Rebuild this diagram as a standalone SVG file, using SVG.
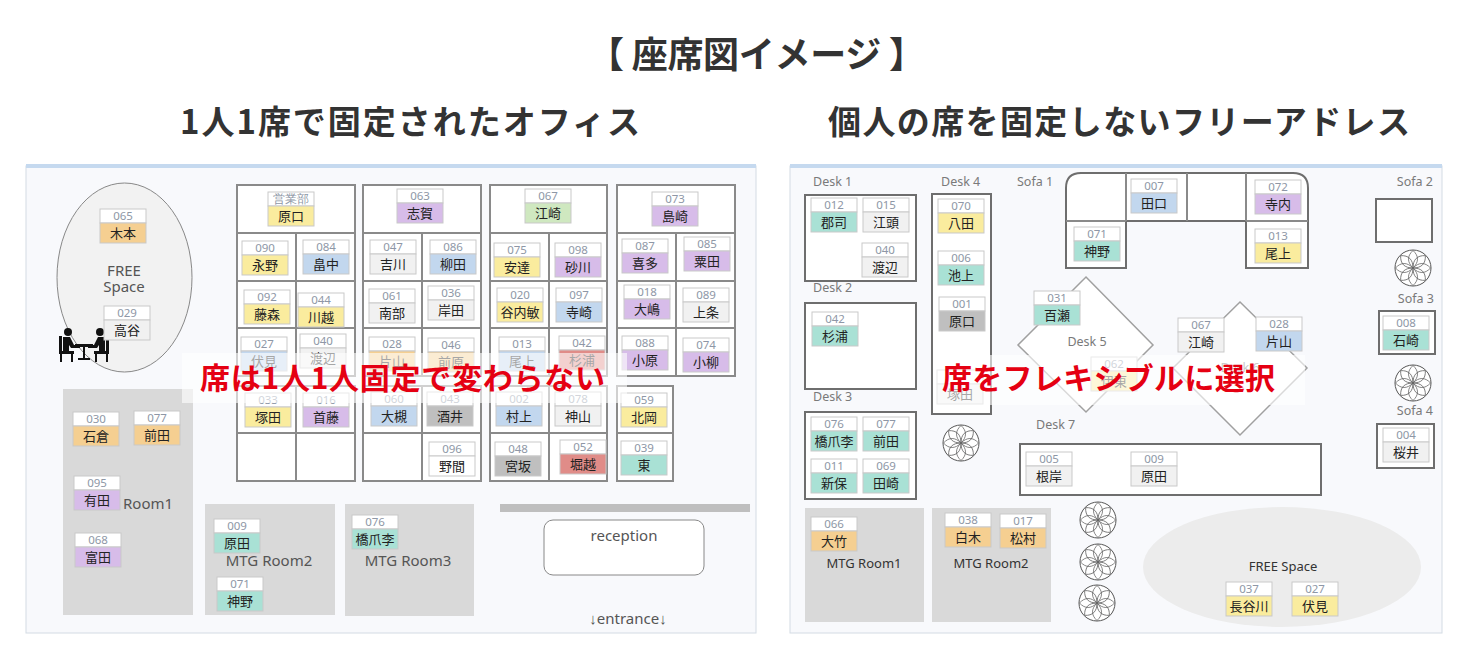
<svg xmlns="http://www.w3.org/2000/svg" width="1468" height="670" viewBox="0 0 1468 670">
<style>
.title{font-family:"Noto Sans CJK JP",sans-serif;font-weight:700;fill:#333}
.panel{fill:#f8f9fc;stroke:#d4dbe4;stroke-width:1}
.topbar{fill:#c5d9ef}
.grid{fill:#fff;stroke:#8a8a8a;stroke-width:2}
.gl{stroke:#8a8a8a;stroke-width:2;fill:none}
.desk{fill:#fff;stroke:#6e6e6e;stroke-width:2}
.dia{fill:#fff;stroke:#a0a0a0;stroke-width:1.5}
.room{fill:#d9d9d9}
.ct{fill:#fff;stroke:#c9c9c9;stroke-width:1}
.cb{stroke:#c9c9c9;stroke-width:1}
.y{fill:#faec9e}.b{fill:#c2d7ee}.p{fill:#d7bce9}.o{fill:#f5cf91}.g{fill:#f1f1f1}.gr{fill:#cfe8c0}.t{fill:#a9e1d5}.d{fill:#bfbfbf}.r{fill:#e08c88}.w{fill:#fff}
.num{font-family:"Noto Sans",sans-serif;font-size:11.5px;fill:#8e97a6;text-anchor:middle}
.nm{font-family:"Noto Sans CJK JP",sans-serif;font-size:13px;fill:#222;text-anchor:middle}
.lbl{font-family:"Noto Sans",sans-serif;font-size:15px;fill:#555}
.dl{font-family:"Noto Sans",sans-serif;font-size:12.5px;fill:#7a7a7a}
.rl{font-family:"Noto Sans",sans-serif;font-size:13px;fill:#333}
.band{fill:#fff;fill-opacity:0.6}
.red{font-family:"Noto Sans CJK JP",sans-serif;font-weight:700;font-size:30px;fill:#e50012}
</style>
<defs>
<g id="plant">
<circle r="18" fill="#fff" stroke="#555" stroke-width="1"/>
<g fill="none" stroke="#666" stroke-width="0.8">
<path id="pt" d="M0,0 C6,-6 6,-12 0,-17.5 C-6,-12 -6,-6 0,0Z"/>
<use href="#pt" transform="rotate(45)"/><use href="#pt" transform="rotate(90)"/><use href="#pt" transform="rotate(135)"/>
<use href="#pt" transform="rotate(180)"/><use href="#pt" transform="rotate(225)"/><use href="#pt" transform="rotate(270)"/><use href="#pt" transform="rotate(315)"/>
</g>
</g>
</defs>
<rect width="1468" height="670" fill="#fff"/>
<text class="title" x="588" y="68" font-size="36" textLength="337">【 座席図イメージ 】</text>
<text class="title" x="180" y="134" font-size="33" textLength="460">1人1席で固定されたオフィス</text>
<text class="title" x="828" y="134" font-size="33" textLength="582">個人の席を固定しないフリーアドレス</text>

<!-- LEFT PANEL -->
<g id="left-panel">
<rect class="panel" x="26" y="166" width="730" height="467"/>
<rect class="topbar" x="26" y="164" width="730" height="4"/>
<ellipse cx="124.5" cy="277.5" rx="67.5" ry="94.5" fill="#f2f2f2" stroke="#888" stroke-width="1"/>
<text class="lbl" x="124" y="276" text-anchor="middle">FREE</text>
<text class="lbl" x="124" y="292" text-anchor="middle">Space</text>
<g id="meeting-icon" fill="#111">
<circle cx="68" cy="332" r="4"/>
<path d="M63,337 h7 l4,8 h6 v3 h-9 l-2,-3 v7 h-6 z"/>
<rect x="59" y="336" width="3" height="18"/>
<rect x="59" y="351" width="15" height="3"/>
<rect x="60" y="354" width="2" height="8"/><rect x="71" y="354" width="2" height="8"/>
<rect x="75" y="344" width="18" height="3"/>
<rect x="83" y="347" width="2" height="12"/>
<rect x="78" y="358" width="12" height="2"/>
<circle cx="100" cy="332" r="4"/>
<path d="M105,337 h-7 l-4,8 h-6 v3 h9 l2,-3 v7 h6 z"/>
<rect x="106" y="336" width="3" height="18"/>
<rect x="94" y="351" width="15" height="3"/>
<rect x="106" y="354" width="2" height="8"/><rect x="95" y="354" width="2" height="8"/>
</g>
<rect class="room" x="63" y="389" width="130" height="226"/>
<text class="lbl" x="123" y="509">Room1</text>
<rect class="room" x="205" y="504" width="130" height="111"/>
<text class="lbl" x="269" y="566" text-anchor="middle">MTG Room2</text>
<rect class="room" x="345" y="504" width="129" height="112"/>
<text class="lbl" x="408" y="566" text-anchor="middle">MTG Room3</text>
<rect x="500" y="504" width="250" height="8" fill="#bfbfbf"/>
<rect x="544" y="520" width="160" height="55" rx="9" fill="#fff" stroke="#888" stroke-width="1"/>
<text class="lbl" x="624" y="541" text-anchor="middle">reception</text>
<text class="lbl" x="628" y="624" text-anchor="middle" font-size="13">↓entrance↓</text>
<!-- desk grid -->
<rect class="grid" x="237" y="185" width="118" height="191"/>
<path class="gl" d="M237,233H355M237,281H355M237,328H355M296,233V376"/>
<rect class="grid" x="237" y="386" width="118" height="95"/>
<path class="gl" d="M237,433H355M296,386V481"/>
<rect class="grid" x="363" y="185" width="118" height="191"/>
<path class="gl" d="M363,233H481M363,281H481M363,328H481M422,233V376"/>
<rect class="grid" x="363" y="386" width="118" height="95"/>
<path class="gl" d="M363,433H481M422,386V481"/>
<rect class="grid" x="490" y="185" width="117" height="191"/>
<path class="gl" d="M490,233H607M490,281H607M490,328H607M549,233V376"/>
<rect class="grid" x="490" y="386" width="117" height="95"/>
<path class="gl" d="M490,433H607M549,386V481"/>
<rect class="grid" x="617" y="185" width="118" height="191"/>
<path class="gl" d="M617,233H735M617,281H735M617,328H735M676,233V376"/>
<rect class="grid" x="617" y="386" width="56" height="95"/>
<path class="gl" d="M617,433H673"/>
</g>

<g id="left-seats">
<g id="L065" transform="translate(100,209)"><rect class="ct" width="46" height="14"/><rect class="cb o" y="14" width="46" height="20"/><text class="num" x="23" y="11">065</text><text class="nm" x="23" y="29">木本</text></g>
<g id="L029" transform="translate(104,306)"><rect class="ct" width="46" height="14"/><rect class="cb g" y="14" width="46" height="20"/><text class="num" x="23" y="11">029</text><text class="nm" x="23" y="29">高谷</text></g>
<g id="L000" transform="translate(268,192)"><rect class="ct" width="46" height="14"/><rect class="cb y" y="14" width="46" height="20"/><text class="num" x="23" y="11" font-size="10.5">営業部</text><text class="nm" x="23" y="29">原口</text></g>
<g id="L090" transform="translate(242,241)"><rect class="ct" width="46" height="14"/><rect class="cb y" y="14" width="46" height="20"/><text class="num" x="23" y="11">090</text><text class="nm" x="23" y="29">永野</text></g>
<g id="L084" transform="translate(303,240)"><rect class="ct" width="46" height="14"/><rect class="cb b" y="14" width="46" height="20"/><text class="num" x="23" y="11">084</text><text class="nm" x="23" y="29">畠中</text></g>
<g id="L092" transform="translate(244,290)"><rect class="ct" width="46" height="14"/><rect class="cb y" y="14" width="46" height="20"/><text class="num" x="23" y="11">092</text><text class="nm" x="23" y="29">藤森</text></g>
<g id="L044" transform="translate(298,293)"><rect class="ct" width="46" height="14"/><rect class="cb y" y="14" width="46" height="20"/><text class="num" x="23" y="11">044</text><text class="nm" x="23" y="29">川越</text></g>
<g id="L027" transform="translate(241,337)"><rect class="ct" width="46" height="14"/><rect class="cb b" y="14" width="46" height="20"/><text class="num" x="23" y="11">027</text><text class="nm" x="23" y="29">伏見</text></g>
<g id="L040" transform="translate(300,334)"><rect class="ct" width="46" height="14"/><rect class="cb g" y="14" width="46" height="20"/><text class="num" x="23" y="11">040</text><text class="nm" x="23" y="29">渡辺</text></g>
<g id="L063" transform="translate(397,189)"><rect class="ct" width="46" height="14"/><rect class="cb p" y="14" width="46" height="20"/><text class="num" x="23" y="11">063</text><text class="nm" x="23" y="29">志賀</text></g>
<g id="L067" transform="translate(525,189)"><rect class="ct" width="46" height="14"/><rect class="cb gr" y="14" width="46" height="20"/><text class="num" x="23" y="11">067</text><text class="nm" x="23" y="29">江崎</text></g>
<g id="L073" transform="translate(652,192)"><rect class="ct" width="46" height="14"/><rect class="cb p" y="14" width="46" height="20"/><text class="num" x="23" y="11">073</text><text class="nm" x="23" y="29">島崎</text></g>
<g id="L047" transform="translate(370,240)"><rect class="ct" width="46" height="14"/><rect class="cb g" y="14" width="46" height="20"/><text class="num" x="23" y="11">047</text><text class="nm" x="23" y="29">吉川</text></g>
<g id="L086" transform="translate(430,240)"><rect class="ct" width="46" height="14"/><rect class="cb b" y="14" width="46" height="20"/><text class="num" x="23" y="11">086</text><text class="nm" x="23" y="29">柳田</text></g>
<g id="L075" transform="translate(494,243)"><rect class="ct" width="46" height="14"/><rect class="cb y" y="14" width="46" height="20"/><text class="num" x="23" y="11">075</text><text class="nm" x="23" y="29">安達</text></g>
<g id="L098" transform="translate(555,243)"><rect class="ct" width="46" height="14"/><rect class="cb p" y="14" width="46" height="20"/><text class="num" x="23" y="11">098</text><text class="nm" x="23" y="29">砂川</text></g>
<g id="L087" transform="translate(622,239)"><rect class="ct" width="46" height="14"/><rect class="cb p" y="14" width="46" height="20"/><text class="num" x="23" y="11">087</text><text class="nm" x="23" y="29">喜多</text></g>
<g id="L085" transform="translate(684,237)"><rect class="ct" width="46" height="14"/><rect class="cb p" y="14" width="46" height="20"/><text class="num" x="23" y="11">085</text><text class="nm" x="23" y="29">粟田</text></g>
<g id="L061" transform="translate(369,289)"><rect class="ct" width="46" height="14"/><rect class="cb g" y="14" width="46" height="20"/><text class="num" x="23" y="11">061</text><text class="nm" x="23" y="29">南部</text></g>
<g id="L036" transform="translate(428,286)"><rect class="ct" width="46" height="14"/><rect class="cb g" y="14" width="46" height="20"/><text class="num" x="23" y="11">036</text><text class="nm" x="23" y="29">岸田</text></g>
<g id="L020" transform="translate(497,288)"><rect class="ct" width="46" height="14"/><rect class="cb y" y="14" width="46" height="20"/><text class="num" x="23" y="11">020</text><text class="nm" x="23" y="29">谷内敏</text></g>
<g id="L097" transform="translate(556,288)"><rect class="ct" width="46" height="14"/><rect class="cb b" y="14" width="46" height="20"/><text class="num" x="23" y="11">097</text><text class="nm" x="23" y="29">寺崎</text></g>
<g id="L018" transform="translate(624,285)"><rect class="ct" width="46" height="14"/><rect class="cb p" y="14" width="46" height="20"/><text class="num" x="23" y="11">018</text><text class="nm" x="23" y="29">大嶋</text></g>
<g id="L089" transform="translate(683,288)"><rect class="ct" width="46" height="14"/><rect class="cb g" y="14" width="46" height="20"/><text class="num" x="23" y="11">089</text><text class="nm" x="23" y="29">上条</text></g>
<g id="L028" transform="translate(369,337)"><rect class="ct" width="46" height="14"/><rect class="cb o" y="14" width="46" height="20"/><text class="num" x="23" y="11">028</text><text class="nm" x="23" y="29">片山</text></g>
<g id="L046" transform="translate(428,338)"><rect class="ct" width="46" height="14"/><rect class="cb o" y="14" width="46" height="20"/><text class="num" x="23" y="11">046</text><text class="nm" x="23" y="29">前原</text></g>
<g id="L013" transform="translate(499,337)"><rect class="ct" width="46" height="14"/><rect class="cb b" y="14" width="46" height="20"/><text class="num" x="23" y="11">013</text><text class="nm" x="23" y="29">尾上</text></g>
<g id="L042" transform="translate(559,336)"><rect class="ct" width="46" height="14"/><rect class="cb r" y="14" width="46" height="20"/><text class="num" x="23" y="11">042</text><text class="nm" x="23" y="29">杉浦</text></g>
<g id="L088" transform="translate(622,336)"><rect class="ct" width="46" height="14"/><rect class="cb p" y="14" width="46" height="20"/><text class="num" x="23" y="11">088</text><text class="nm" x="23" y="29">小原</text></g>
<g id="L074" transform="translate(683,338)"><rect class="ct" width="46" height="14"/><rect class="cb p" y="14" width="46" height="20"/><text class="num" x="23" y="11">074</text><text class="nm" x="23" y="29">小柳</text></g>
<g id="L033" transform="translate(245,393)"><rect class="ct" width="46" height="14"/><rect class="cb y" y="14" width="46" height="20"/><text class="num" x="23" y="11">033</text><text class="nm" x="23" y="29">塚田</text></g>
<g id="L016" transform="translate(303,393)"><rect class="ct" width="46" height="14"/><rect class="cb p" y="14" width="46" height="20"/><text class="num" x="23" y="11">016</text><text class="nm" x="23" y="29">首藤</text></g>
<g id="L060" transform="translate(371,392)"><rect class="ct" width="46" height="14"/><rect class="cb b" y="14" width="46" height="20"/><text class="num" x="23" y="11">060</text><text class="nm" x="23" y="29">大槻</text></g>
<g id="L043" transform="translate(427,392)"><rect class="ct" width="46" height="14"/><rect class="cb d" y="14" width="46" height="20"/><text class="num" x="23" y="11">043</text><text class="nm" x="23" y="29">酒井</text></g>
<g id="L002" transform="translate(496,392)"><rect class="ct" width="46" height="14"/><rect class="cb b" y="14" width="46" height="20"/><text class="num" x="23" y="11">002</text><text class="nm" x="23" y="29">村上</text></g>
<g id="L078" transform="translate(555,392)"><rect class="ct" width="46" height="14"/><rect class="cb g" y="14" width="46" height="20"/><text class="num" x="23" y="11">078</text><text class="nm" x="23" y="29">神山</text></g>
<g id="L059" transform="translate(621,393)"><rect class="ct" width="46" height="14"/><rect class="cb y" y="14" width="46" height="20"/><text class="num" x="23" y="11">059</text><text class="nm" x="23" y="29">北岡</text></g>
<g id="L096" transform="translate(429,442)"><rect class="ct" width="46" height="14"/><rect class="cb w" y="14" width="46" height="20"/><text class="num" x="23" y="11">096</text><text class="nm" x="23" y="29">野間</text></g>
<g id="L048" transform="translate(495,442)"><rect class="ct" width="46" height="14"/><rect class="cb d" y="14" width="46" height="20"/><text class="num" x="23" y="11">048</text><text class="nm" x="23" y="29">宮坂</text></g>
<g id="L052" transform="translate(560,440)"><rect class="ct" width="46" height="14"/><rect class="cb r" y="14" width="46" height="20"/><text class="num" x="23" y="11">052</text><text class="nm" x="23" y="29">堀越</text></g>
<g id="L039" transform="translate(621,441)"><rect class="ct" width="46" height="14"/><rect class="cb t" y="14" width="46" height="20"/><text class="num" x="23" y="11">039</text><text class="nm" x="23" y="29">東</text></g>
<g id="L030" transform="translate(73,412)"><rect class="ct" width="46" height="14"/><rect class="cb o" y="14" width="46" height="20"/><text class="num" x="23" y="11">030</text><text class="nm" x="23" y="29">石倉</text></g>
<g id="L077" transform="translate(134,411)"><rect class="ct" width="46" height="14"/><rect class="cb o" y="14" width="46" height="20"/><text class="num" x="23" y="11">077</text><text class="nm" x="23" y="29">前田</text></g>
<g id="L095" transform="translate(74,476)"><rect class="ct" width="46" height="14"/><rect class="cb p" y="14" width="46" height="20"/><text class="num" x="23" y="11">095</text><text class="nm" x="23" y="29">有田</text></g>
<g id="L068" transform="translate(75,533)"><rect class="ct" width="46" height="14"/><rect class="cb p" y="14" width="46" height="20"/><text class="num" x="23" y="11">068</text><text class="nm" x="23" y="29">富田</text></g>
<g id="L009" transform="translate(214,519)"><rect class="ct" width="46" height="14"/><rect class="cb t" y="14" width="46" height="20"/><text class="num" x="23" y="11">009</text><text class="nm" x="23" y="29">原田</text></g>
<g id="L071" transform="translate(217,577)"><rect class="ct" width="46" height="14"/><rect class="cb t" y="14" width="46" height="20"/><text class="num" x="23" y="11">071</text><text class="nm" x="23" y="29">神野</text></g>
<g id="L076" transform="translate(352,515)"><rect class="ct" width="46" height="14"/><rect class="cb t" y="14" width="46" height="20"/><text class="num" x="23" y="11">076</text><text class="nm" x="23" y="29">橋爪李</text></g>
</g>

<!-- RIGHT PANEL -->
<g id="right-panel">
<rect class="panel" x="790" y="166" width="652" height="467"/>
<rect class="topbar" x="790" y="164" width="652" height="4"/>
<text class="dl" x="813" y="186">Desk 1</text>
<rect class="desk" x="805" y="195" width="111" height="86"/>
<text class="dl" x="941" y="186">Desk 4</text>
<rect class="desk" x="932" y="194" width="59" height="220"/>
<text class="dl" x="813" y="292">Desk 2</text>
<rect class="desk" x="805" y="303" width="111" height="86"/>
<text class="dl" x="813" y="401">Desk 3</text>
<rect class="desk" x="805" y="412" width="111" height="87"/>
<text class="dl" x="1017" y="186">Sofa 1</text>
<path class="desk" d="M1066,268V188Q1066,173 1081,173H1293Q1308,173 1308,188V268H1246V221H1126V268Z"/>
<path class="gl" d="M1066,221H1126M1246,221H1308M1126,173V221M1187,173V221M1246,173V221" stroke="#6e6e6e"/>
<text class="dl" x="1433" y="186" text-anchor="end">Sofa 2</text>
<rect class="desk" x="1376" y="199" width="56" height="43"/>
<text class="dl" x="1434" y="303" text-anchor="end">Sofa 3</text>
<rect class="desk" x="1379" y="311" width="56" height="43"/>
<text class="dl" x="1433" y="415" text-anchor="end">Sofa 4</text>
<rect class="desk" x="1377" y="424" width="57" height="44"/>
<path class="dia" d="M1086,277L1153,345L1086,412L1018,345Z"/>
<text class="dl" x="1087" y="346" text-anchor="middle">Desk 5</text>
<path class="dia" d="M1240,302L1307,368L1240,435L1173,368Z"/>
<text class="dl" x="1240" y="372" text-anchor="middle">Desk 6</text>
<text class="dl" x="1036" y="429">Desk 7</text>
<rect class="desk" x="1020" y="444" width="301" height="51"/>
<rect class="room" x="805" y="508" width="119" height="114"/>
<text class="rl" x="864" y="568" text-anchor="middle">MTG Room1</text>
<rect class="room" x="932" y="508" width="119" height="114"/>
<text class="rl" x="991" y="568" text-anchor="middle">MTG Room2</text>
<ellipse cx="1282" cy="567" rx="139" ry="60" fill="#ececec"/>
<text class="rl" x="1283" y="571" text-anchor="middle">FREE Space</text>
<g id="plants">
<use href="#plant" transform="translate(1413,268)"/>
<use href="#plant" transform="translate(1413,383)"/>
<use href="#plant" transform="translate(961,443)"/>
<use href="#plant" transform="translate(1098,520)"/>
<use href="#plant" transform="translate(1098,562)"/>
<use href="#plant" transform="translate(1097,603)"/>
</g>
</g>

<g id="right-seats">
<g id="R012" transform="translate(811,198)"><rect class="ct" width="46" height="14"/><rect class="cb t" y="14" width="46" height="20"/><text class="num" x="23" y="11">012</text><text class="nm" x="23" y="29">郡司</text></g>
<g id="R015" transform="translate(863,198)"><rect class="ct" width="46" height="14"/><rect class="cb g" y="14" width="46" height="20"/><text class="num" x="23" y="11">015</text><text class="nm" x="23" y="29">江頭</text></g>
<g id="R040" transform="translate(862,243)"><rect class="ct" width="46" height="14"/><rect class="cb g" y="14" width="46" height="20"/><text class="num" x="23" y="11">040</text><text class="nm" x="23" y="29">渡辺</text></g>
<g id="R070" transform="translate(938,199)"><rect class="ct" width="46" height="14"/><rect class="cb y" y="14" width="46" height="20"/><text class="num" x="23" y="11">070</text><text class="nm" x="23" y="29">八田</text></g>
<g id="R006" transform="translate(938,251)"><rect class="ct" width="46" height="14"/><rect class="cb t" y="14" width="46" height="20"/><text class="num" x="23" y="11">006</text><text class="nm" x="23" y="29">池上</text></g>
<g id="R001" transform="translate(939,297)"><rect class="ct" width="46" height="14"/><rect class="cb d" y="14" width="46" height="20"/><text class="num" x="23" y="11">001</text><text class="nm" x="23" y="29">原口</text></g>
<g id="R033" transform="translate(937,370)"><rect class="ct" width="46" height="14"/><rect class="cb g" y="14" width="46" height="20"/><text class="nm" x="23" y="29">塚田</text></g>
<g id="R042" transform="translate(812,312)"><rect class="ct" width="46" height="14"/><rect class="cb t" y="14" width="46" height="20"/><text class="num" x="23" y="11">042</text><text class="nm" x="23" y="29">杉浦</text></g>
<g id="R076" transform="translate(811,417)"><rect class="ct" width="46" height="14"/><rect class="cb t" y="14" width="46" height="20"/><text class="num" x="23" y="11">076</text><text class="nm" x="23" y="29">橋爪李</text></g>
<g id="R077" transform="translate(863,417)"><rect class="ct" width="46" height="14"/><rect class="cb t" y="14" width="46" height="20"/><text class="num" x="23" y="11">077</text><text class="nm" x="23" y="29">前田</text></g>
<g id="R011" transform="translate(811,459)"><rect class="ct" width="46" height="14"/><rect class="cb t" y="14" width="46" height="20"/><text class="num" x="23" y="11">011</text><text class="nm" x="23" y="29">新保</text></g>
<g id="R069" transform="translate(863,459)"><rect class="ct" width="46" height="14"/><rect class="cb t" y="14" width="46" height="20"/><text class="num" x="23" y="11">069</text><text class="nm" x="23" y="29">田崎</text></g>
<g id="R071" transform="translate(1074,227)"><rect class="ct" width="46" height="14"/><rect class="cb t" y="14" width="46" height="20"/><text class="num" x="23" y="11">071</text><text class="nm" x="23" y="29">神野</text></g>
<g id="R007" transform="translate(1131,179)"><rect class="ct" width="46" height="14"/><rect class="cb b" y="14" width="46" height="20"/><text class="num" x="23" y="11">007</text><text class="nm" x="23" y="29">田口</text></g>
<g id="R072" transform="translate(1255,180)"><rect class="ct" width="46" height="14"/><rect class="cb p" y="14" width="46" height="20"/><text class="num" x="23" y="11">072</text><text class="nm" x="23" y="29">寺内</text></g>
<g id="R013" transform="translate(1255,229)"><rect class="ct" width="46" height="14"/><rect class="cb y" y="14" width="46" height="20"/><text class="num" x="23" y="11">013</text><text class="nm" x="23" y="29">尾上</text></g>
<g id="R008" transform="translate(1383,316)"><rect class="ct" width="46" height="14"/><rect class="cb t" y="14" width="46" height="20"/><text class="num" x="23" y="11">008</text><text class="nm" x="23" y="29">石崎</text></g>
<g id="R004" transform="translate(1383,428)"><rect class="ct" width="46" height="14"/><rect class="cb g" y="14" width="46" height="20"/><text class="num" x="23" y="11">004</text><text class="nm" x="23" y="29">桜井</text></g>
<g id="R031" transform="translate(1034,291)"><rect class="ct" width="46" height="14"/><rect class="cb t" y="14" width="46" height="20"/><text class="num" x="23" y="11">031</text><text class="nm" x="23" y="29">百瀬</text></g>
<g id="R062" transform="translate(1091,357)"><rect class="ct" width="46" height="14"/><rect class="cb y" y="14" width="46" height="20"/><text class="num" x="23" y="11">062</text><text class="nm" x="23" y="29">伊東</text></g>
<g id="R067" transform="translate(1178,318)"><rect class="ct" width="46" height="14"/><rect class="cb g" y="14" width="46" height="20"/><text class="num" x="23" y="11">067</text><text class="nm" x="23" y="29">江崎</text></g>
<g id="R028" transform="translate(1256,317)"><rect class="ct" width="46" height="14"/><rect class="cb b" y="14" width="46" height="20"/><text class="num" x="23" y="11">028</text><text class="nm" x="23" y="29">片山</text></g>
<g id="R005" transform="translate(1026,452)"><rect class="ct" width="46" height="14"/><rect class="cb g" y="14" width="46" height="20"/><text class="num" x="23" y="11">005</text><text class="nm" x="23" y="29">根岸</text></g>
<g id="R009" transform="translate(1131,452)"><rect class="ct" width="46" height="14"/><rect class="cb g" y="14" width="46" height="20"/><text class="num" x="23" y="11">009</text><text class="nm" x="23" y="29">原田</text></g>
<g id="R066" transform="translate(811,517)"><rect class="ct" width="46" height="14"/><rect class="cb o" y="14" width="46" height="20"/><text class="num" x="23" y="11">066</text><text class="nm" x="23" y="29">大竹</text></g>
<g id="R038" transform="translate(945,513)"><rect class="ct" width="46" height="14"/><rect class="cb o" y="14" width="46" height="20"/><text class="num" x="23" y="11">038</text><text class="nm" x="23" y="29">白木</text></g>
<g id="R017" transform="translate(1000,514)"><rect class="ct" width="46" height="14"/><rect class="cb o" y="14" width="46" height="20"/><text class="num" x="23" y="11">017</text><text class="nm" x="23" y="29">松村</text></g>
<g id="R037" transform="translate(1226,582)"><rect class="ct" width="46" height="14"/><rect class="cb y" y="14" width="46" height="20"/><text class="num" x="23" y="11">037</text><text class="nm" x="23" y="29">長谷川</text></g>
<g id="R027" transform="translate(1292,582)"><rect class="ct" width="46" height="14"/><rect class="cb y" y="14" width="46" height="20"/><text class="num" x="23" y="11">027</text><text class="nm" x="23" y="29">伏見</text></g>
</g>

<g id="overlays">
<rect class="band" x="182" y="353" width="445" height="50"/>
<text class="red" x="200" y="389" textLength="405">席は1人1人固定で変わらない</text>
<rect class="band" x="935" y="355" width="370" height="50"/>
<text class="red" x="942" y="389" textLength="333">席をフレキシブルに選択</text>
</g>
<g id="connectors"/>
</svg>
